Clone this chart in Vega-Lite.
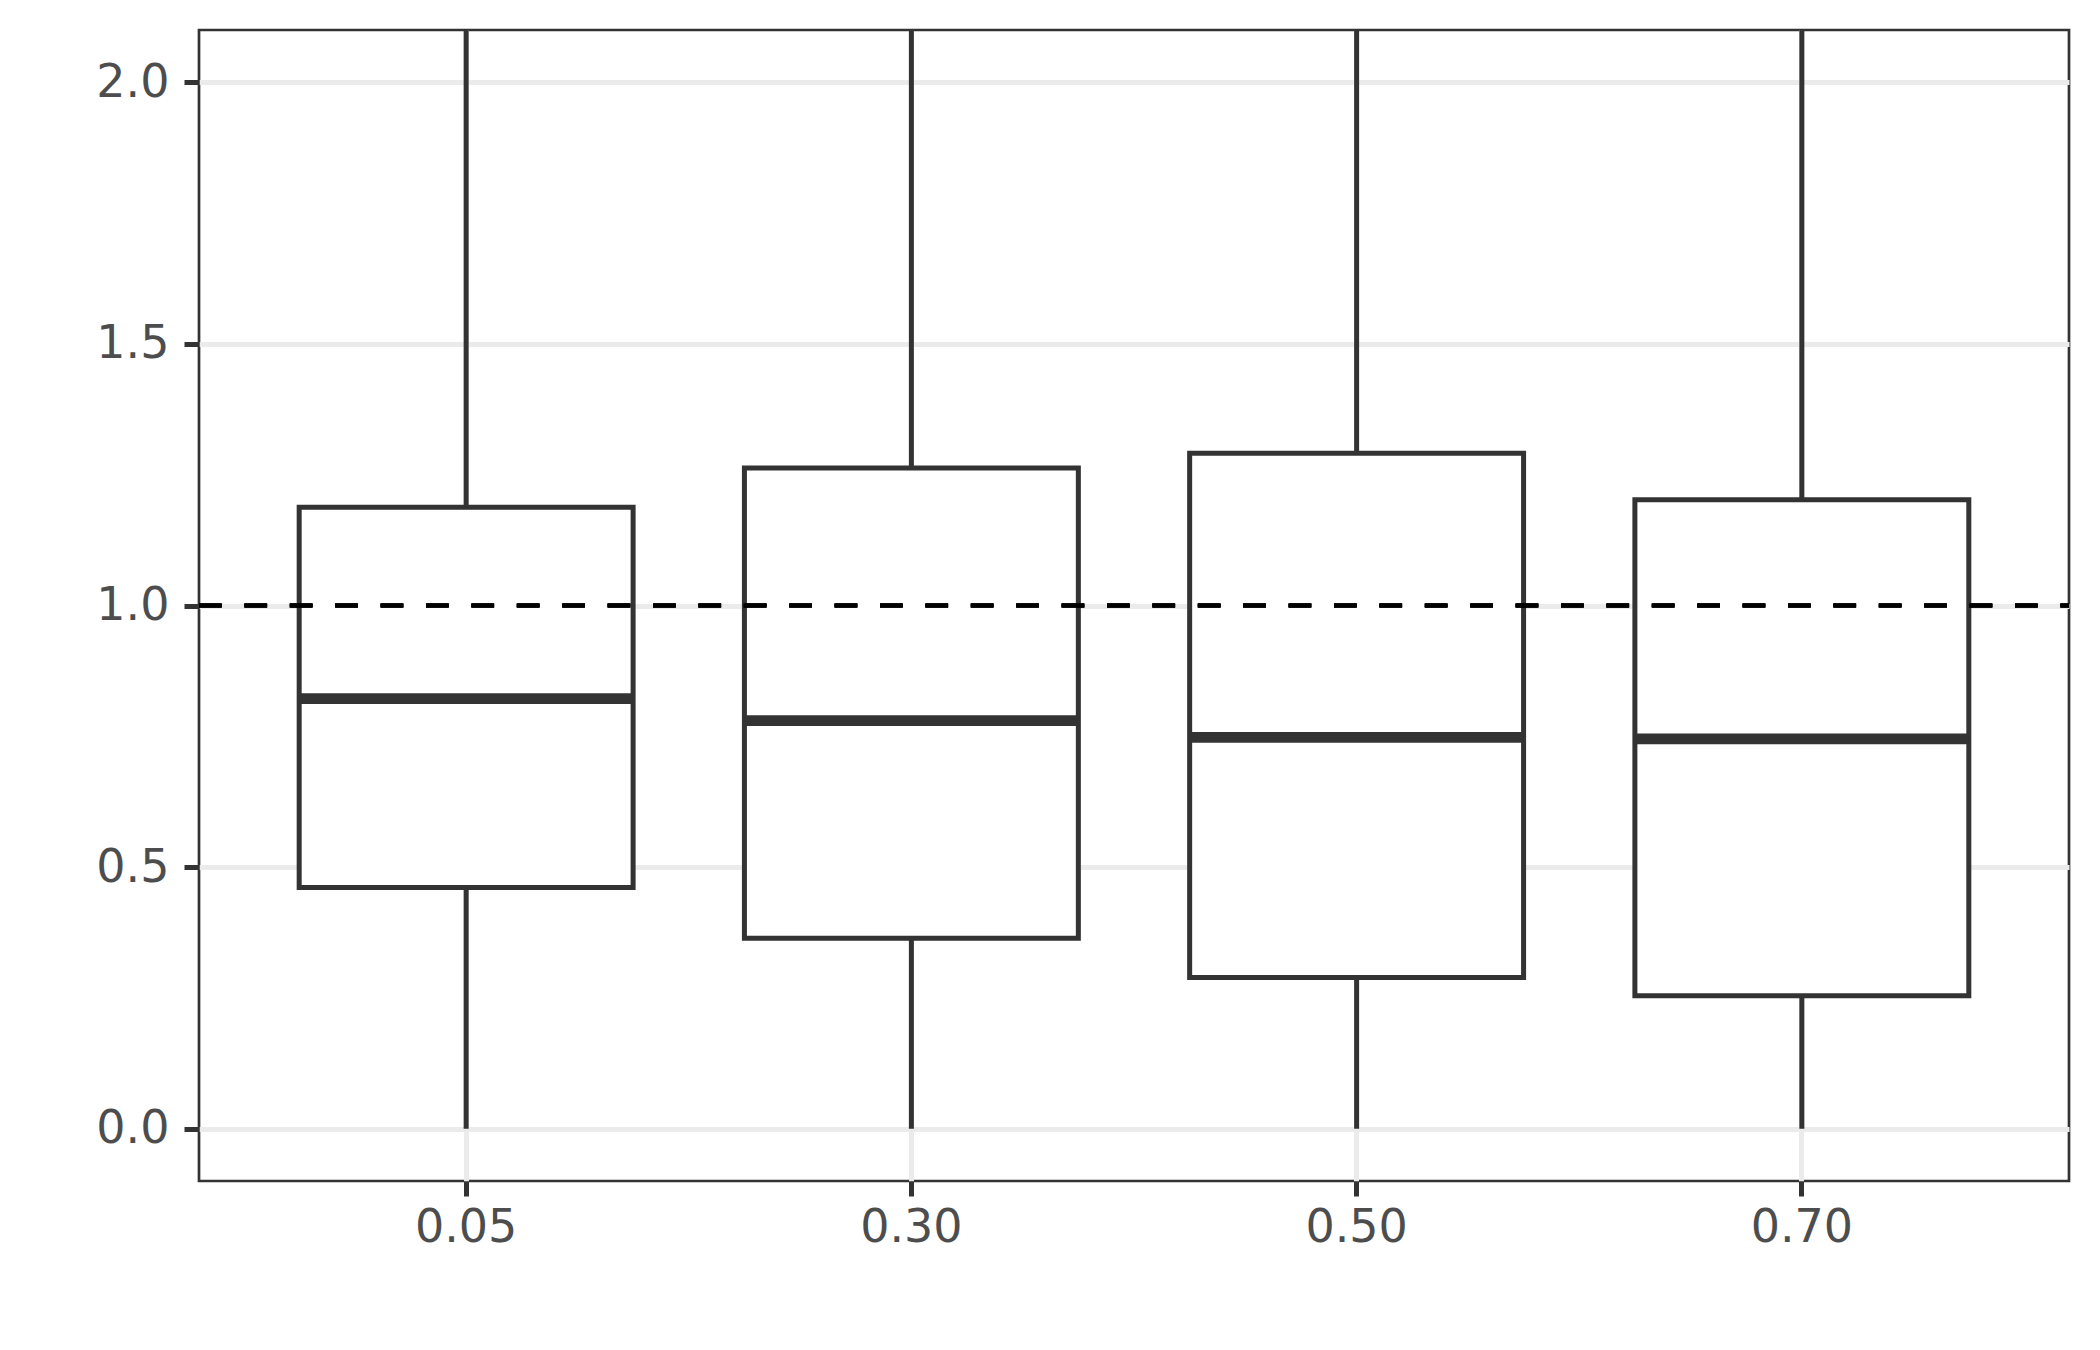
{
  "$schema": "https://vega.github.io/schema/vega-lite/v6.json",
  "width": 1870,
  "height": 1151,
  "autosize": "none",
  "padding": {"left": 199, "top": 30, "right": 31, "bottom": 169},
  "background": "white",
  "config": {
    "view": {"stroke": "#333333", "strokeWidth": 2.7},
    "font": "DejaVu Sans",
    "axis": {
      "labelFont": "DejaVu Sans",
      "labelFontSize": 46,
      "labelColor": "#4D4D4D",
      "tickColor": "#333333",
      "tickWidth": 5,
      "tickSize": 15,
      "domain": false,
      "grid": true,
      "gridColor": "#EBEBEB",
      "gridWidth": 5,
      "title": null
    }
  },
  "data": {
    "values": [
      {"alpha": "0.05", "lower": 0, "q1": 0.461, "median": 0.822, "q3": 1.188, "upper": 2.4},
      {"alpha": "0.30", "lower": 0, "q1": 0.364, "median": 0.780, "q3": 1.263, "upper": 2.5},
      {"alpha": "0.50", "lower": 0, "q1": 0.289, "median": 0.748, "q3": 1.291, "upper": 2.5},
      {"alpha": "0.70", "lower": 0, "q1": 0.254, "median": 0.745, "q3": 1.202, "upper": 2.4}
    ]
  },
  "encoding": {
    "x": {
      "field": "alpha",
      "type": "ordinal",
      "sort": null,
      "scale": {"paddingInner": 0.25, "paddingOuter": 0.225},
      "axis": {"labelAngle": 0, "labelPadding": 9}
    }
  },
  "layer": [
    {
      "mark": {"type": "rule", "stroke": "#333333", "strokeWidth": 5, "clip": true},
      "encoding": {
        "y": {
          "field": "lower",
          "type": "quantitative",
          "scale": {"domain": [-0.1, 2.1], "nice": false, "zero": false},
          "axis": {"values": [0, 0.5, 1, 1.5, 2], "format": ".1f", "labelPadding": 15}
        },
        "y2": {"field": "upper"}
      }
    },
    {
      "mark": {"type": "bar", "fill": "white", "stroke": "#333333", "strokeWidth": 5, "clip": true},
      "encoding": {
        "y": {"field": "q1", "type": "quantitative"},
        "y2": {"field": "q3"}
      }
    },
    {
      "mark": {"type": "tick", "orient": "horizontal", "size": 334, "thickness": 10.7, "color": "#333333", "opacity": 1},
      "encoding": {
        "y": {"field": "median", "type": "quantitative"}
      }
    },
    {
      "mark": {"type": "rule", "stroke": "black", "strokeWidth": 4, "strokeDash": [22.7, 22.7]},
      "encoding": {
        "y": {"datum": 1, "type": "quantitative"},
        "x": {"value": 0},
        "x2": {"value": 1870}
      }
    }
  ]
}
